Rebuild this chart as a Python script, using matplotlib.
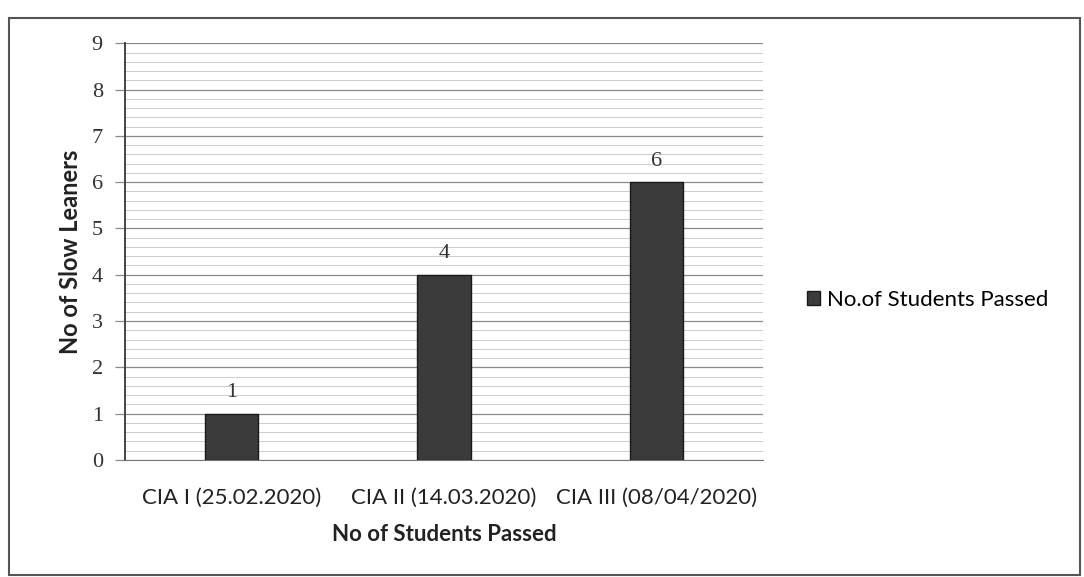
import matplotlib
matplotlib.use("Agg")
import matplotlib.pyplot as plt
import numpy as np
from matplotlib.patches import Rectangle

categories = ["CIA I (25.02.2020)", "CIA II (14.03.2020)", "CIA III (08/04/2020)"]
passed = [1, 4, 6]
series_name = "No.of Students Passed"
y_ticks = list(range(0, 10))

fig = plt.figure(figsize=(10.84, 5.77), dpi=100)
fig.patch.set_facecolor("white")
# outer chart border
fig.add_artist(Rectangle((0.008, 0.004), 0.988, 0.964, transform=fig.transFigure,
                         fill=False, edgecolor="#555555", linewidth=1.5))

ax = fig.add_axes([0.1153, 0.203, 0.5886, 0.722])
x = np.arange(len(categories))
bars = ax.bar(x, passed, width=0.25, color="#3b3b3b", edgecolor="#1a1a1a",
              linewidth=1.0, label=series_name, zorder=3)
ax.set_xlim(-0.5, 2.5)
ax.set_ylim(0, 9)
ax.set_yticks(y_ticks)
ax.set_yticks(np.arange(0, 9.01, 0.2), minor=True)
ax.grid(axis="y", which="major", color="#8a8a8a", linewidth=0.9, zorder=0)
ax.grid(axis="y", which="minor", color="#c4c4c4", linewidth=0.6, zorder=0)
ax.tick_params(axis="y", which="major", length=7, width=0.9, color="#888888",
               direction="out", pad=9)
ax.tick_params(axis="y", which="minor", length=0)
ax.tick_params(axis="x", length=0, pad=20)
ax.set_yticklabels([str(v) for v in y_ticks], fontfamily="Liberation Serif",
                   fontsize=16, color="#333333")
ax.set_xticks(x)
ax.set_xticklabels(categories, fontfamily="Lato", fontsize=16, color="#222222")
for s in ["top", "right"]:
    ax.spines[s].set_visible(False)
ax.spines["left"].set_color("#444444")
ax.spines["left"].set_linewidth(1.4)
ax.spines["bottom"].set_color("#777777")

for b, v in zip(bars, passed):
    ax.text(b.get_x() + b.get_width() / 2, v + 0.25, str(v), ha="center",
            va="bottom", fontfamily="Liberation Serif", fontsize=16, color="#333333")

ax.set_ylabel("No of Slow Leaners", fontfamily="Lato", fontsize=17,
              fontweight="bold", color="#222222", labelpad=7)
ax.set_xlabel("No of Students Passed", fontfamily="Lato", fontsize=16,
              fontweight="bold", color="#222222", labelpad=12)

fig.legend(handles=[bars], labels=[series_name], loc="center left",
           bbox_to_anchor=(0.726, 0.48), frameon=False,
           prop={"family": "Lato", "size": 16}, handlelength=0.6,
           handleheight=0.6, handletextpad=0.3)

fig.savefig("out.png", dpi=100)
